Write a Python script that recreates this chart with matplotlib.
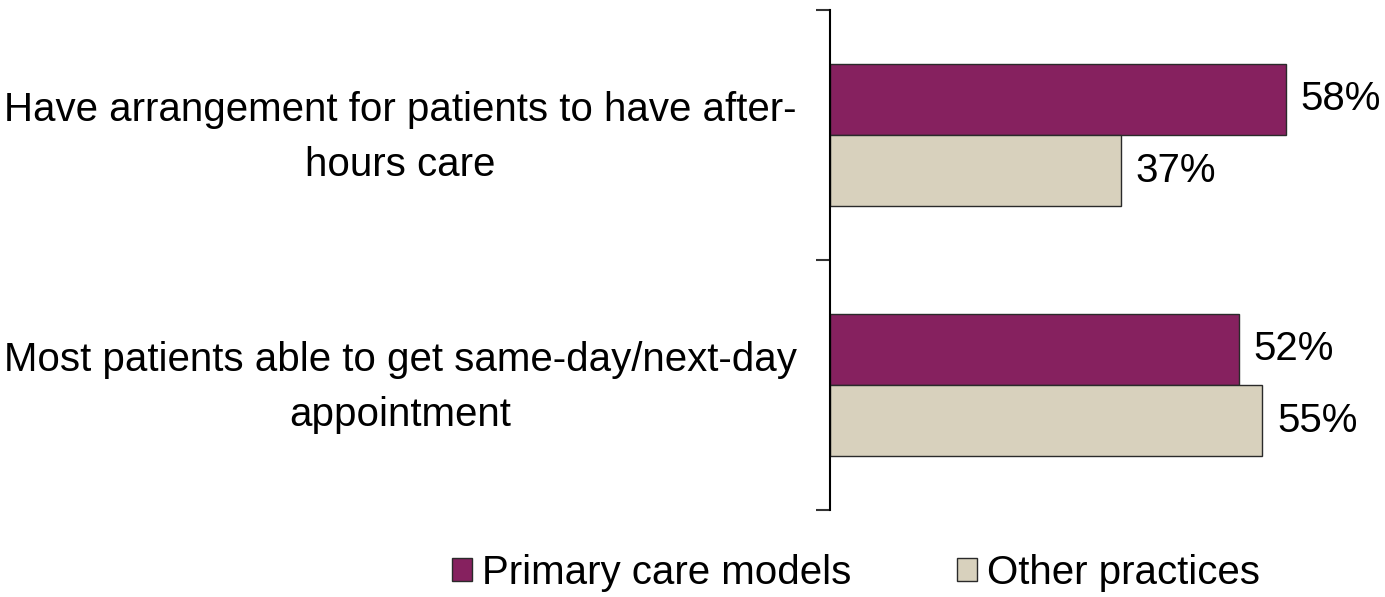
import matplotlib
matplotlib.use("Agg")
import matplotlib.pyplot as plt
import matplotlib.transforms as mtransforms
from matplotlib.patches import Patch

plt.rcParams['font.family'] = ['Liberation Sans', 'DejaVu Sans']
fs = 29

categories = ["Have arrangement for patients to have after-\nhours care",
              "Most patients able to get same-day/next-day\nappointment"]
series_names = ["Primary care models", "Other practices"]
primary = [58, 52]
other = [37, 55]
colors = ["#86215F", "#D8D1BD"]

fig = plt.figure(figsize=(13.85, 5.97), dpi=100)
ax = fig.add_axes([830/1385, 1-510/597, 550/1385, 500/597])

h = 0.284
ys = list(range(len(categories)))
for vals, off, col in [(primary, -h/2, colors[0]), (other, h/2, colors[1])]:
    bars = ax.barh([y + off for y in ys], vals, height=h, color=col,
                   edgecolor="#2a2a2a", linewidth=1.0)
    for b, v in zip(bars, vals):
        ax.text(b.get_width() + 1.9, b.get_y() + b.get_height()/2, f"{v}%",
                va="center", ha="left", fontsize=fs)

ax.set_xlim(0, 70)
ax.set_ylim(len(categories) - 0.5, -0.5)
ax.set_yticks([-0.5 + i for i in range(len(categories) + 1)])
ax.set_yticklabels([])
ax.tick_params(axis='y', direction='out', length=10, width=1.5, color="#333333")
ax.set_xticks([])
for s in ["top", "right", "bottom"]:
    ax.spines[s].set_visible(False)
ax.spines["left"].set_linewidth(1.5)

trans = mtransforms.blended_transform_factory(fig.transFigure, ax.transData)
for y, lab in zip(ys, categories):
    ax.text(400/1385, y + 0.01, lab, transform=trans, ha="center", va="center",
            fontsize=fs, linespacing=1.55)

handles = [Patch(facecolor=colors[0], edgecolor="#2a2a2a", linewidth=1.0),
           Patch(facecolor=colors[1], edgecolor="#2a2a2a", linewidth=1.0)]
fig.legend(handles, series_names, loc="center", bbox_to_anchor=(856/1385, 1-573/597),
           ncol=2, frameon=False, fontsize=fs, handlelength=0.5, handleheight=0.5,
           handletextpad=0.25, columnspacing=2.6, borderpad=0)

fig.savefig("out.png", dpi=100)
